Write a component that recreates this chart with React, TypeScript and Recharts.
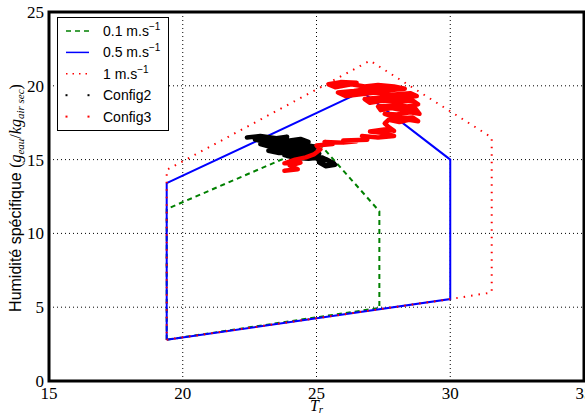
import React from 'react';
import { ComposedChart, Line, XAxis, YAxis, CartesianGrid, ReferenceArea, Legend } from 'recharts';

const xTicks = [15, 20, 25, 30, 35];
const yTicks = [0, 5, 10, 15, 20, 25];

const speed01 = [
  { x: 19.4, y: 2.8 }, { x: 19.4, y: 11.65 }, { x: 25.1, y: 16.1 },
  { x: 27.35, y: 11.5 }, { x: 27.35, y: 4.95 }, { x: 19.4, y: 2.8 },
];
const speed05 = [
  { x: 19.4, y: 2.8 }, { x: 30.0, y: 5.55 }, { x: 30.0, y: 15.0 },
  { x: 26.7, y: 19.6 }, { x: 19.4, y: 13.4 }, { x: 19.4, y: 2.8 },
];
const speed1 = [
  { x: 19.4, y: 2.8 }, { x: 30.0, y: 5.55 }, { x: 31.55, y: 6.0 },
  { x: 31.55, y: 16.5 }, { x: 27.0, y: 21.7 }, { x: 19.4, y: 14.3 }, { x: 19.4, y: 2.8 },
];

const config2 = [
  { x: 22.4, y: 16.5 }, { x: 22.9, y: 16.6 }, { x: 23.5, y: 16.45 }, { x: 23.9, y: 16.55 },
  { x: 23.4, y: 16.3 }, { x: 22.7, y: 16.35 }, { x: 23.1, y: 16.15 }, { x: 23.8, y: 16.25 },
  { x: 24.4, y: 16.4 }, { x: 24.7, y: 16.2 }, { x: 24.2, y: 16.05 }, { x: 23.5, y: 16.0 },
  { x: 22.9, y: 16.05 }, { x: 23.3, y: 15.85 }, { x: 24.0, y: 15.85 }, { x: 24.6, y: 16.0 },
  { x: 25.0, y: 15.85 }, { x: 24.4, y: 15.7 }, { x: 23.7, y: 15.65 }, { x: 23.2, y: 15.6 },
  { x: 23.6, y: 15.45 }, { x: 24.3, y: 15.5 }, { x: 24.9, y: 15.6 }, { x: 25.1, y: 15.4 },
  { x: 24.5, y: 15.3 }, { x: 23.8, y: 15.3 }, { x: 24.1, y: 15.15 }, { x: 24.7, y: 15.05 },
  { x: 25.2, y: 15.15 }, { x: 25.55, y: 14.85 }, { x: 25.7, y: 14.65 }, { x: 25.35, y: 14.55 },
  { x: 25.1, y: 14.8 }, { x: 25.4, y: 15.0 }, { x: 25.65, y: 14.75 }, { x: 25.3, y: 14.6 },
  { x: 24.9, y: 15.25 }, { x: 24.4, y: 15.4 }, { x: 23.9, y: 15.55 }, { x: 23.4, y: 15.8 },
  { x: 23.0, y: 16.25 },
];

const config3 = [
  { x: 23.8, y: 14.25 }, { x: 24.3, y: 14.35 }, { x: 24.0, y: 14.6 }, { x: 24.4, y: 14.8 },
  { x: 23.8, y: 14.75 }, { x: 24.2, y: 15.0 }, { x: 24.6, y: 15.15 }, { x: 24.9, y: 15.35 },
  { x: 25.15, y: 15.7 }, { x: 25.0, y: 15.95 }, { x: 25.6, y: 16.05 }, { x: 25.3, y: 16.2 },
  { x: 26.0, y: 16.15 }, { x: 26.5, y: 16.25 }, { x: 26.0, y: 16.3 }, { x: 26.9, y: 16.35 },
  { x: 26.7, y: 16.6 }, { x: 27.3, y: 16.5 }, { x: 27.9, y: 16.6 }, { x: 27.5, y: 16.8 },
  { x: 27.0, y: 16.9 }, { x: 27.6, y: 17.05 }, { x: 27.9, y: 16.95 }, { x: 27.7, y: 17.2 },
  { x: 27.55, y: 17.45 }, { x: 27.7, y: 17.7 }, { x: 28.1, y: 17.55 }, { x: 28.45, y: 17.7 },
  { x: 28.8, y: 17.6 }, { x: 28.6, y: 17.85 }, { x: 28.2, y: 17.8 }, { x: 27.8, y: 17.95 },
  { x: 27.55, y: 18.1 }, { x: 28.0, y: 18.05 }, { x: 28.5, y: 18.2 }, { x: 28.85, y: 18.1 },
  { x: 28.7, y: 18.45 }, { x: 28.2, y: 18.35 }, { x: 27.8, y: 18.5 }, { x: 27.4, y: 18.35 },
  { x: 27.3, y: 18.6 }, { x: 27.9, y: 18.7 }, { x: 28.4, y: 18.6 }, { x: 28.8, y: 18.75 },
  { x: 28.6, y: 19.0 }, { x: 28.0, y: 18.9 }, { x: 27.5, y: 19.0 }, { x: 27.0, y: 18.85 },
  { x: 26.8, y: 19.1 }, { x: 27.4, y: 19.2 }, { x: 28.1, y: 19.15 }, { x: 28.75, y: 19.3 },
  { x: 28.5, y: 19.5 }, { x: 27.8, y: 19.4 }, { x: 27.2, y: 19.55 }, { x: 26.5, y: 19.4 },
  { x: 26.1, y: 19.3 }, { x: 25.8, y: 19.55 }, { x: 26.4, y: 19.65 }, { x: 27.0, y: 19.8 },
  { x: 27.7, y: 19.7 }, { x: 28.3, y: 19.8 }, { x: 27.9, y: 19.95 }, { x: 27.3, y: 20.05 },
  { x: 26.8, y: 19.95 }, { x: 26.3, y: 20.1 }, { x: 25.7, y: 19.9 }, { x: 25.45, y: 20.1 },
  { x: 25.9, y: 20.25 }, { x: 26.5, y: 20.2 },
];

const legendLabels = ['0.1 m.s', '0.5 m.s', '1 m.s', 'Config2', 'Config3'];

const SERIF = "'Liberation Serif', 'DejaVu Serif', serif";
const SANS = "'Liberation Sans', Arial, sans-serif";

const GREEN = '#008000';
const BLUE = '#0000ff';
const RED = '#ff0000';

function LegendBox() {
  const rowY = (i: number) => 14 + i * 21.4;
  return (
    <svg width={112} height={114} style={{ display: 'block' }}>
      <rect x={0.5} y={0.5} width={111} height={113} fill="#fff" stroke="#000" strokeWidth={1} />
      <line x1={9} x2={32} y1={rowY(0)} y2={rowY(0)} stroke={GREEN} strokeWidth={1.5} strokeDasharray="5 4" />
      <line x1={9} x2={32} y1={rowY(1)} y2={rowY(1)} stroke={BLUE} strokeWidth={1.5} />
      <line x1={9} x2={32} y1={rowY(2)} y2={rowY(2)} stroke={RED} strokeWidth={1.5} strokeDasharray="1.5 5" />
      <rect x={8.5} y={rowY(3) - 1} width={2} height={2} fill="#000" />
      <rect x={30.5} y={rowY(3) - 1} width={2} height={2} fill="#000" />
      <rect x={8.5} y={rowY(4) - 1} width={2} height={2} fill={RED} />
      <rect x={30.5} y={rowY(4) - 1} width={2} height={2} fill={RED} />
      {legendLabels.map((lab, i) => (
        <text key={lab} x={46} y={rowY(i) + 5} fontFamily={SANS} fontSize={14} fill="#000">
          {lab}
          {i < 3 ? <tspan fontSize={10} dy={-6}>−1</tspan> : null}
        </text>
      ))}
    </svg>
  );
}

const XTick = (props: any) => {
  const { x, y, payload } = props;
  return (
    <text x={x} y={y} dy="0.71em" textAnchor="middle" fontFamily={SERIF} fontSize={17} fill="#000">
      {payload.value}
    </text>
  );
};

const XLabel = (props: any) => {
  const vb = props.viewBox || {};
  const cx = vb.x + vb.width / 2;
  return (
    <text x={cx} y={411} textAnchor="middle" fontFamily={SERIF} fontStyle="italic" fontSize={16} fill="#000">
      T<tspan fontSize={11} dy={2}>r</tspan>
    </text>
  );
};

const YLabel = () => {
  const x = 21;
  const y = 198;
  return (
    <text x={x} y={y} transform={`rotate(-90, ${x}, ${y})`} textAnchor="middle" fontFamily={SANS} fontSize={16} fill="#000">
      Humidité spécifique <tspan fontFamily={SERIF}>(</tspan>
      <tspan fontFamily={SERIF} fontStyle="italic">g</tspan>
      <tspan fontFamily={SERIF} fontStyle="italic" fontSize={11} dy={3}>eau</tspan>
      <tspan fontFamily={SERIF} dy={-3}>/</tspan>
      <tspan fontFamily={SERIF} fontStyle="italic">kg</tspan>
      <tspan fontFamily={SERIF} fontStyle="italic" fontSize={11} dy={3}>air sec</tspan>
      <tspan fontFamily={SERIF} dy={-3}>)</tspan>
    </text>
  );
};

export default function App() {
  return (
    <div style={{ position: 'absolute', left: 0, top: 0, width: 585, height: 414, background: '#fff' }}>
      <ComposedChart width={585} height={414} margin={{ top: 12, right: 1, bottom: 0, left: 0 }}>
        <CartesianGrid stroke="#000" strokeDasharray="1 3" strokeWidth={1} />
        <XAxis
          type="number"
          dataKey="x"
          domain={[15, 35]}
          ticks={xTicks}
          interval={0}
          allowDataOverflow
          height={33}
          axisLine={false}
          tickLine={false}
          tickSize={0}
          tickMargin={6}
          tick={<XTick />}
          label={<XLabel />}
        />
        <YAxis
          type="number"
          dataKey="y"
          domain={[0, 25]}
          ticks={yTicks}
          interval={0}
          allowDataOverflow
          width={49}
          axisLine={false}
          tickLine={false}
          tickSize={0}
          tickMargin={5}
          tick={{ fill: '#000', fontSize: 17, fontFamily: SERIF }}
          label={<YLabel />}
        />
        <Line data={speed01} dataKey="y" type="linear" stroke={GREEN} strokeWidth={2} strokeDasharray="5 4" dot={false} isAnimationActive={false} />
        <Line data={speed05} dataKey="y" type="linear" stroke={BLUE} strokeWidth={2} dot={false} isAnimationActive={false} />
        <Line data={speed1} dataKey="y" type="linear" stroke={RED} strokeWidth={2} strokeDasharray="1.5 6" dot={false} isAnimationActive={false} />
        <Line data={config2} dataKey="y" type="linear" stroke="#000" strokeWidth={4.5} strokeLinejoin="round" strokeLinecap="round" dot={false} isAnimationActive={false} />
        <Line data={config3} dataKey="y" type="linear" stroke={RED} strokeWidth={4.5} strokeLinejoin="round" strokeLinecap="round" dot={false} isAnimationActive={false} />
        <ReferenceArea x1={15} x2={35} y1={0} y2={25} fill="none" stroke="#000" strokeWidth={3} ifOverflow="visible" />
        <Legend layout="horizontal" align="center" verticalAlign="middle" wrapperStyle={{ left: 57, top: 17, width: 112, height: 114 }} content={() => <LegendBox />} />
      </ComposedChart>
    </div>
  );
}
